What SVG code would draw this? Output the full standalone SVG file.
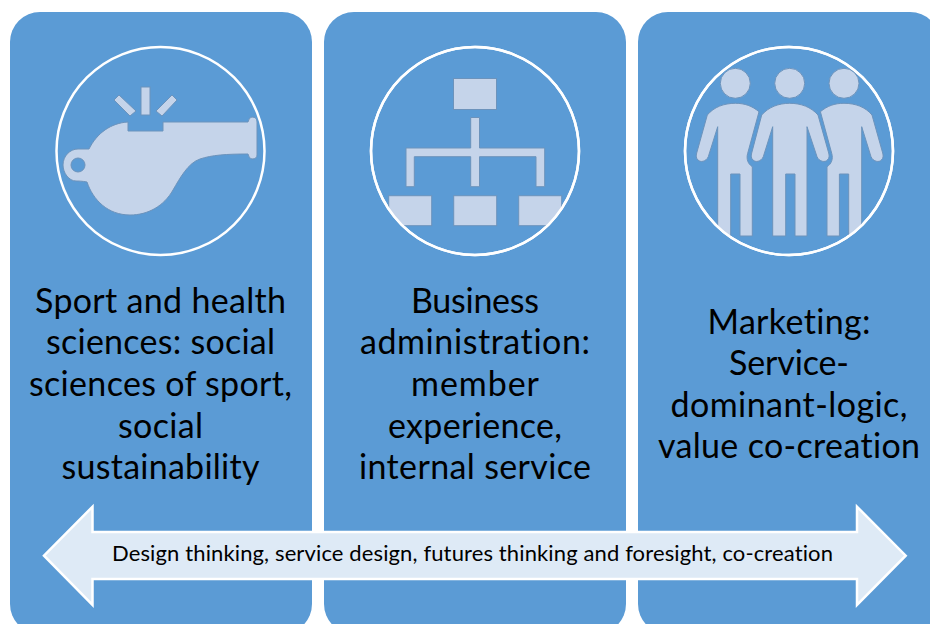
<svg xmlns="http://www.w3.org/2000/svg" width="930" height="624" viewBox="0 0 930 624">
<style>
.panel{fill:#5B9BD5}
.ring{fill:#5B9BD5;stroke:#fff;stroke-width:2.5}
.icon{fill:#C5D4EA;stroke:#6C93BC;stroke-width:1}
.label{font-family:Lato,"Liberation Sans",sans-serif;font-size:34px;fill:#000;text-anchor:middle;font-variant-ligatures:none}
.arrowtext{font-family:Lato,"Liberation Sans",sans-serif;font-size:22px;fill:#000;font-variant-ligatures:none}
</style>
<defs>
<clipPath id="c2"><circle cx="475" cy="151" r="104"/></clipPath>
<clipPath id="c3"><circle cx="789" cy="151" r="104"/></clipPath>
</defs>
<rect width="930" height="624" fill="#fff"/>
<g id="panel-sport">
<rect class="panel" x="10" y="12" width="302" height="622" rx="30"/>
<circle class="ring" cx="160.5" cy="151" r="104"/>
<path class="icon" fill-rule="evenodd" d="M163 122H248Q249 117 252 117Q257 117 257 122V155Q257 159 252 159Q249 159 248 154C226 154 212 155 200 159C188 163 180 178 173 190C164 206 148 215 130 215C108 215 93 200 87 182C82 181 78 181 76 181C69 181 63 173 63 165C63 156 70 149 78 149H89C97 133 111 123 128 122V131H163ZM85 165A7 7 0 1 0 71 165A7 7 0 1 0 85 165Z"/>
<rect class="icon" x="141" y="87" width="9" height="28"/>
<path class="icon" d="M114 100L119 95L136 111L130 116Z"/>
<path class="icon" d="M156 111L172 95L177 100L162 116Z"/>
<text class="label"><tspan x="160.500" y="313" textLength="251">Sport and health</tspan><tspan x="160.500" y="354" textLength="229">sciences: social</tspan><tspan x="160.500" y="396" textLength="263">sciences of sport,</tspan><tspan x="160.500" y="438" textLength="85">social</tspan><tspan x="160.500" y="479" textLength="198">sustainability</tspan></text>
</g>
<g id="panel-business">
<rect class="panel" x="324" y="12" width="302" height="622" rx="30"/>
<circle class="ring" cx="475" cy="151" r="104"/>
<g clip-path="url(#c2)">
<rect class="icon" x="453.500" y="78.500" width="43" height="31"/>
<path class="icon" d="M470.700 117.500H479.500V148H544.700V186.700H536V156.700H479.500V186.700H470.700V156.700H414.300V186.700H406V148H470.700Z"/>
<rect class="icon" x="388.700" y="195.700" width="43" height="30"/>
<rect class="icon" x="453.700" y="195.700" width="43" height="30"/>
<rect class="icon" x="518.700" y="195.700" width="43" height="30"/>
</g>
<circle cx="475" cy="151" r="104" fill="none" stroke="#fff" stroke-width="2.500"/>
<text class="label"><tspan x="475" y="313" textLength="128">Business</tspan><tspan x="475" y="354" textLength="230">administration:</tspan><tspan x="475" y="396" textLength="128">member</tspan><tspan x="475" y="438" textLength="174">experience,</tspan><tspan x="475" y="479" textLength="232">internal service</tspan></text>
</g>
<g id="panel-marketing">
<rect class="panel" x="638" y="12" width="302" height="622" rx="30"/>
<circle class="ring" cx="789" cy="151" r="104"/>
<g clip-path="url(#c3)">
<circle class="icon" cx="735.300" cy="83.300" r="15"/>
<circle class="icon" cx="789.700" cy="83.300" r="15"/>
<circle class="icon" cx="844" cy="83.300" r="15"/>
<path class="icon" d="M735.300 103.300C745 103.300 752 106 759 111.700L747.700 153.300C746 159 748 164 752.300 166.700V236H740V174H730.700V236H717.700V126.700L708.300 156.700C706 162 700 162.500 698 160C696 158 696 156 696.700 153L707.300 115C714 107 724 103.300 735.300 103.300Z"/>
<path class="icon" d="M844 103.300C834.300 103.300 827.300 106 820.400 111.700L831.700 153.300C833.400 159 831.400 164 827 166.700V236H839.400V174H848.700V236H861.700V126.700L871 156.700C873.400 162 879.400 162.500 881.400 160C883.400 158 883.400 156 882.700 153L872 115C865.400 107 855.400 103.300 844 103.300Z"/>
<path class="icon" d="M789.700 103.300C801 103.300 811 107 818 115L828.700 153C829.400 156 829.400 158 827.400 160C825.400 162.500 819.400 162 817 156.700L807 126.700V236H795V174H785.700V236H772.700V126.700L763.300 156.700C761 162 755 162.500 753 160C751 158 751 156 751.700 153L761.700 115C768.700 107 778.700 103.300 789.700 103.300Z"/>
</g>
<circle cx="789" cy="151" r="104" fill="none" stroke="#fff" stroke-width="2.500"/>
<text class="label"><tspan x="789" y="334" textLength="163">Marketing:</tspan><tspan x="789" y="375" textLength="120">Service-</tspan><tspan x="789" y="417" textLength="237">dominant-logic,</tspan><tspan x="789" y="458" textLength="262">value co-creation</tspan></text>
</g>
<g id="connectors">
<path id="double-arrow" d="M44 555.700L92.500 506.700V532H857V506.700L905.700 555.700L857 605V579H92.500V605Z" fill="#DEEAF6" stroke="#fff" stroke-width="2.500"/>
<text class="arrowtext" x="112" y="561" textLength="721">Design thinking, service design, futures thinking and foresight, co-creation</text>
</g>
</svg>
